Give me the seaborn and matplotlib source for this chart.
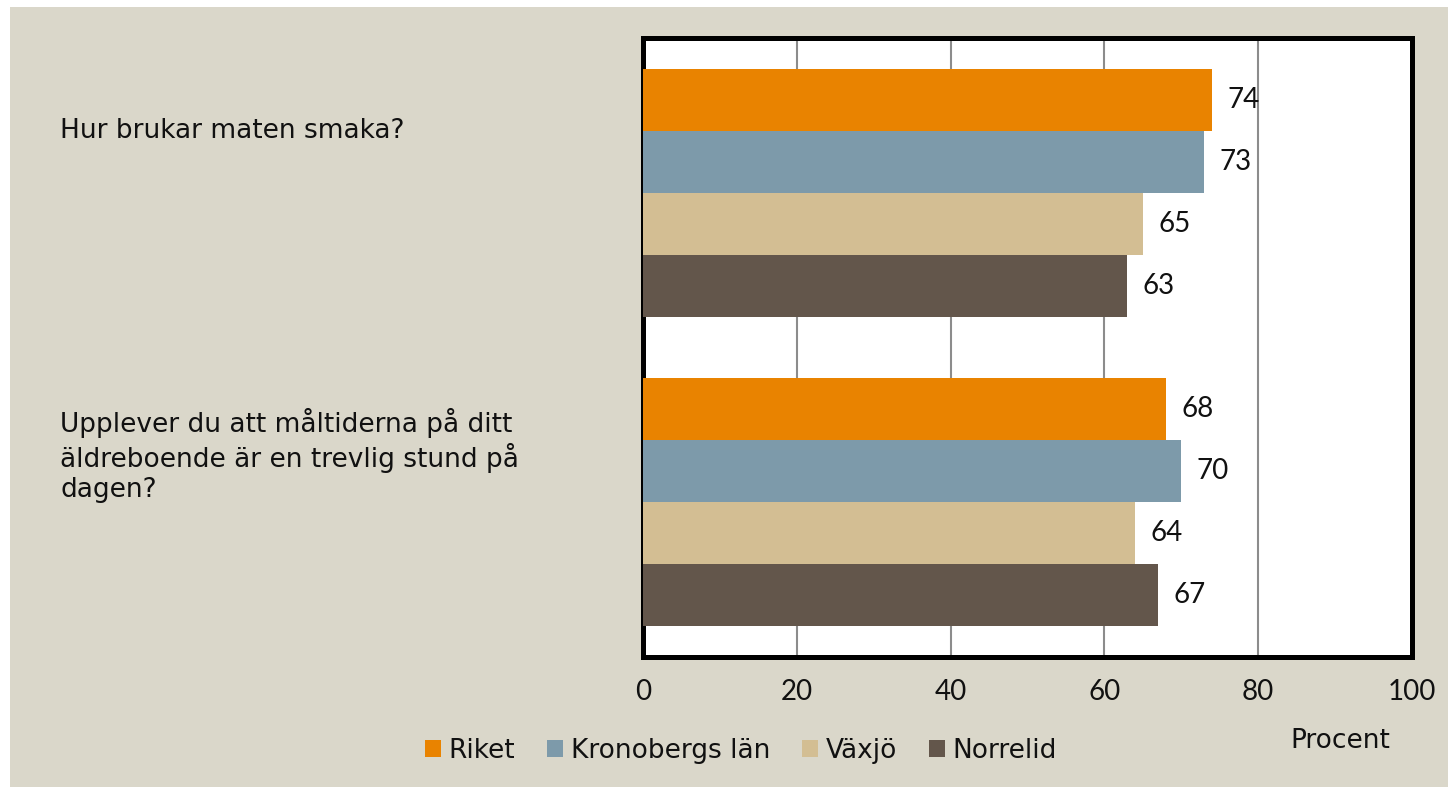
import pandas as pd
import seaborn as sns
import matplotlib.pyplot as plt
from matplotlib.patches import Rectangle, Patch

# Data
questions = ["Hur brukar maten smaka?",
             "Upplever du att måltiderna på ditt\näldreboende är en trevlig stund på\ndagen?"]
areas = ["Riket", "Kronobergs län", "Växjö", "Norrelid"]
riket = [74, 68]
kronoberg = [73, 70]
vaxjo = [65, 64]
norrelid = [63, 67]
colors = ["#E98300", "#7D9AAA", "#D3BE93", "#63564B"]

rows = []
for area, vals in zip(areas, [riket, kronoberg, vaxjo, norrelid]):
    for q, v in zip(questions, vals):
        rows.append({"fraga": q, "omrade": area, "procent": v})
df = pd.DataFrame(rows)

sns.set_style("white")
plt.rcParams["font.family"] = ["Lato", "DejaVu Sans"]
words = ["DejaVu Sans"]

fig = plt.figure(figsize=(14.48, 7.87), dpi=100, facecolor="white")
fig.patches.append(Rectangle((10 / 1448, 0), 1, 1 - 7 / 787, transform=fig.transFigure,
                             facecolor="#DAD7CA", edgecolor="none", zorder=-10))
ax = fig.add_axes([643 / 1448, 1 - 657 / 787, (1412 - 643) / 1448, (657 - 38) / 787])

sns.barplot(data=df, x="procent", y="fraga", hue="omrade", orient="h",
            palette=colors, width=0.8, saturation=1, ax=ax, legend=False,
            edgecolor="none", zorder=3)

ax.set_xlim(0, 100)
ax.set_ylim(1.5, -0.5)
ax.set_xticks([0, 20, 40, 60, 80, 100])
ax.tick_params(axis="x", length=0, pad=16, labelsize=20, labelcolor="#111111")
ax.set_yticks([])
ax.set_xlabel("")
ax.set_ylabel("")
ax.grid(axis="x", color="#8C8C8C", linewidth=1.5, zorder=0)
ax.set_facecolor("white")
for s in ax.spines.values():
    s.set_color("black")
    s.set_linewidth(3.6)

for cont in ax.containers:
    ax.bar_label(cont, padding=11, fontsize=20, color="#111111")

# question labels sit a bit above their bar groups
for q, i, dy in zip(questions, [0, 1], [62, 47]):
    ax.annotate(q, xy=(60 / 1448, i), xycoords=("figure fraction", "data"),
                xytext=(0, dy), textcoords="offset pixels",
                ha="left", va="center", fontsize=19, linespacing=1.2,
                family=words, color="#111111", annotation_clip=False)

handles = [Patch(facecolor=c, edgecolor="none") for c in colors]
fig.legend(handles, areas, loc="center", bbox_to_anchor=(741 / 1448, 1 - 751 / 787),
           ncol=4, frameon=False, prop={"family": words, "size": 19},
           handlelength=0.6, handleheight=0.6, handletextpad=0.3, columnspacing=1.2,
           labelcolor="#111111")

fig.text(1340 / 1448, 1 - 741 / 787, "Procent", ha="center", va="center",
         fontsize=19, family=words, color="#111111")

fig.savefig("out.png", dpi=100, facecolor=fig.get_facecolor())
